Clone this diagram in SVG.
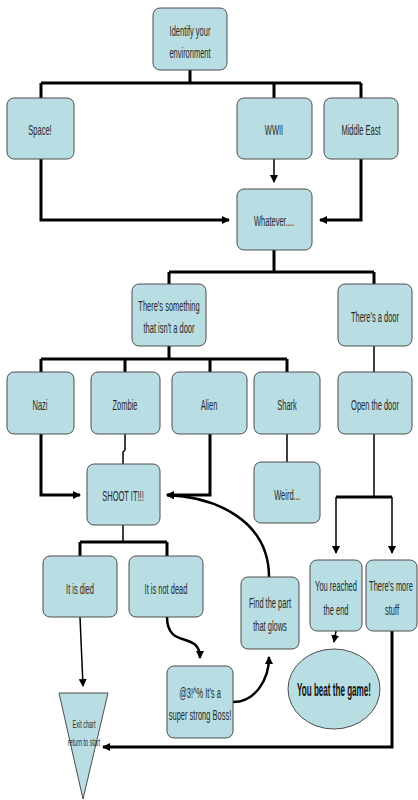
<svg xmlns="http://www.w3.org/2000/svg" width="418" height="800" viewBox="0 0 418 800">
<style>
.box{fill:#b8dde2;stroke:#4d4d4d;stroke-width:1}
.t{font-family:"Liberation Sans",Arial,sans-serif;font-size:15px;fill:#2a2a2a;text-anchor:middle}
.ts{font-family:"Liberation Sans",Arial,sans-serif;font-size:11px;fill:#2a2a2a;text-anchor:middle}
.tb{font-family:"Liberation Sans",Arial,sans-serif;font-size:18px;font-weight:bold;fill:#111;text-anchor:middle}
.c{fill:none;stroke:#000;stroke-width:3}
.c2{fill:none;stroke:#000;stroke-width:1.5}
.c3{fill:none;stroke:#000;stroke-width:2.5}
</style>
<defs>
<marker id="ah" markerWidth="8" markerHeight="8" refX="7" refY="4" orient="auto" markerUnits="userSpaceOnUse"><path d="M0,0 L8,4 L0,8 Z" fill="#000"/></marker>
</defs>
<rect width="418" height="800" fill="#fff"/>
<g id="connectors">
<path class="c" d="M190,70 V83 M41,83 H361 M41,83 V98 M274,83 V98 M361,83 V98"/>
<path class="c" d="M41,159 V220 H229" marker-end="url(#ah)"/>
<path class="c2" d="M274,159 V182" marker-end="url(#ah)"/>
<path class="c" d="M361,159 V220 H320" marker-end="url(#ah)"/>
<path class="c" d="M274,250 V272 M169,272 H374 M169,272 V284 M374,272 V284"/>
<path class="c" d="M169,346 V359 M41,359 H287 M41,359 V372 M125,359 V372 M210,359 V372 M287,359 V372"/>
<path class="c2" d="M374,346 V372"/>
<path class="c" d="M41,434 V495 H80" marker-end="url(#ah)"/>
<path class="c2" d="M125,434 V450 L123,452 V464"/>
<path class="c" d="M210,434 V495 H167" marker-end="url(#ah)"/>
<path class="c2" d="M287,434 V462"/>
<path class="c2" d="M374,434 V497"/>
<path class="c" d="M336,497 H392"/>
<path class="c2" d="M336,497 V553" marker-end="url(#ah)"/>
<path class="c2" d="M392,497 V553" marker-end="url(#ah)"/>
<path class="c2" d="M123,525 V542"/>
<path class="c" d="M80,542 H167 M80,542 V556 M167,542 V556"/>
<path class="c2" d="M80,617 L83,686" marker-end="url(#ah)"/>
<path class="c3" d="M167,617 C167,650 200,630 200,658" marker-end="url(#ah)"/>
<path class="c3" d="M233,702 C255,702 269,680 269,657" marker-end="url(#ah)"/>
<path class="c3" d="M269,577 C269,520 215,497 167,495" marker-end="url(#ah)"/>
<path class="c2" d="M336,631 L334,642" marker-end="url(#ah)"/>
<path class="c" d="M392,631 V747 H103" marker-end="url(#ah)"/>
</g>
<g id="identify"><rect class="box" x="153" y="8" width="74" height="62" rx="7"/><text class="t" transform="translate(190,36) scale(0.5,1)">Identify your</text><text class="t" transform="translate(190,58) scale(0.5,1)">environment</text></g>
<g id="space"><rect class="box" x="7" y="98" width="67" height="61" rx="7"/><text class="t" transform="translate(40,135) scale(0.5,1)">Space!</text></g>
<g id="wwii"><rect class="box" x="237" y="98" width="75" height="61" rx="7"/><text class="t" transform="translate(274,135) scale(0.5,1)">WWII</text></g>
<g id="middleeast"><rect class="box" x="324" y="98" width="74" height="61" rx="7"/><text class="t" transform="translate(361,135) scale(0.5,1)">Middle East</text></g>
<g id="whatever"><rect class="box" x="237" y="189" width="75" height="61" rx="7"/><text class="t" transform="translate(274,226) scale(0.5,1)">Whatever....</text></g>
<g id="something"><rect class="box" x="132" y="284" width="74" height="62" rx="7"/><text class="t" transform="translate(169,311) scale(0.5,1)">There's something</text><text class="t" transform="translate(169,333) scale(0.5,1)">that isn't a door</text></g>
<g id="door"><rect class="box" x="338" y="284" width="74" height="62" rx="7"/><text class="t" transform="translate(375,322) scale(0.5,1)">There's a door</text></g>
<g id="nazi"><rect class="box" x="7" y="372" width="67" height="62" rx="7"/><text class="t" transform="translate(40,410) scale(0.5,1)">Nazi</text></g>
<g id="zombie"><rect class="box" x="91" y="372" width="69" height="62" rx="7"/><text class="t" transform="translate(125,410) scale(0.5,1)">Zombie</text></g>
<g id="alien"><rect class="box" x="172" y="372" width="75" height="62" rx="7"/><text class="t" transform="translate(209,410) scale(0.5,1)">Alien</text></g>
<g id="shark"><rect class="box" x="254" y="372" width="66" height="62" rx="7"/><text class="t" transform="translate(287,410) scale(0.5,1)">Shark</text></g>
<g id="opendoor"><rect class="box" x="338" y="372" width="74" height="62" rx="7"/><text class="t" transform="translate(375,410) scale(0.5,1)">Open the door</text></g>
<g id="shoot"><rect class="box" x="87" y="464" width="73" height="61" rx="7"/><text class="t" transform="translate(123,501) scale(0.5,1)">SHOOT IT!!!</text></g>
<g id="weird"><rect class="box" x="254" y="462" width="66" height="61" rx="7"/><text class="t" transform="translate(287,500) scale(0.5,1)">Weird...</text></g>
<g id="died"><rect class="box" x="43" y="556" width="74" height="61" rx="7"/><text class="t" transform="translate(80,594) scale(0.5,1)">It is died</text></g>
<g id="notdead"><rect class="box" x="129" y="556" width="74" height="61" rx="7"/><text class="t" transform="translate(166,594) scale(0.5,1)">It is not dead</text></g>
<g id="findpart"><rect class="box" x="241" y="577" width="58" height="72" rx="7"/><text class="t" transform="translate(270,608) scale(0.5,1)">Find the part</text><text class="t" transform="translate(270,631) scale(0.5,1)">that glows</text></g>
<g id="reached"><rect class="box" x="310" y="560" width="52" height="71" rx="7"/><text class="t" transform="translate(336,591) scale(0.5,1)">You reached</text><text class="t" transform="translate(336,615) scale(0.5,1)">the end</text></g>
<g id="morestuff"><rect class="box" x="366" y="560" width="51" height="71" rx="7"/><text class="t" transform="translate(391,591) scale(0.5,1)">There's more</text><text class="t" transform="translate(392,615) scale(0.5,1)">stuff</text></g>
<g id="boss"><rect class="box" x="167" y="666" width="66" height="72" rx="7"/><text class="t" transform="translate(200,698) scale(0.5,1)">@3!^% It's a</text><text class="t" transform="translate(200,720) scale(0.5,1)">super strong Boss!</text></g>
<g id="beat"><ellipse class="box" cx="334" cy="689" rx="46" ry="40"/><text class="tb" transform="translate(334,696) scale(0.45,1)">You beat the game!</text></g>
<g id="exit"><polygon class="box" points="59,693 108,693 83,799"/><text class="ts" transform="translate(84,728) scale(0.5,1)">Exit chart</text><text class="ts" transform="translate(84,746) scale(0.5,1)">return to start</text></g>
</svg>
